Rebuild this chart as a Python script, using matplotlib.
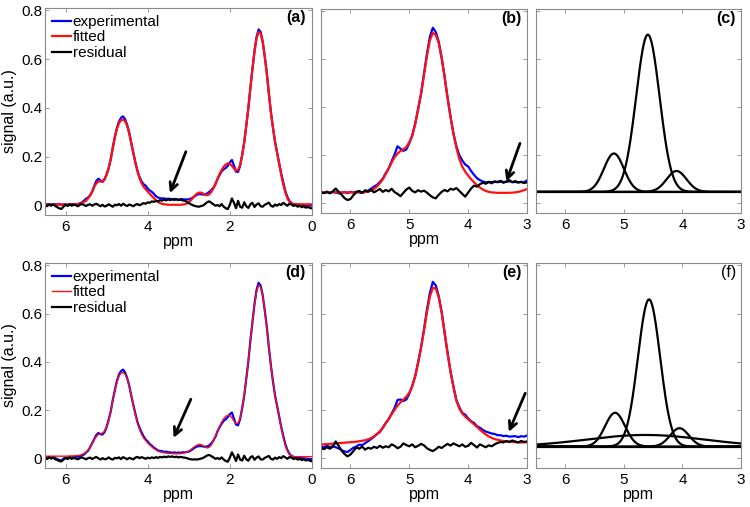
import numpy as np
import matplotlib
matplotlib.use("Agg")
import matplotlib.pyplot as plt

plt.rcParams['font.family'] = ['Liberation Sans', 'DejaVu Sans']

# chemical-shift grids (ppm), 0.05 ppm steps
ppm_full = np.round(np.arange(6.5, -0.001, -0.05), 2)   # panels a, d
ppm_zoom = np.round(np.arange(6.5, 2.999, -0.05), 2)    # panels b, e

# ---- panel (a) ----
fit_a = [0.003, 0.003, 0.003, 0.003, 0.003, 0.003, 0.003, 0.003, 0.003, 0.003,
         0.003, 0.003, 0.003, 0.003, 0.003, 0.004, 0.005, 0.006, 0.009, 0.013,
         0.019, 0.028, 0.041, 0.058, 0.076, 0.090, 0.097, 0.098, 0.100, 0.108,
         0.125, 0.152, 0.190, 0.235, 0.278, 0.313, 0.337, 0.349, 0.352, 0.345,
         0.326, 0.296, 0.257, 0.214, 0.174, 0.140, 0.112, 0.091, 0.076, 0.066,
         0.056, 0.047, 0.038, 0.029, 0.021, 0.014, 0.009, 0.006, 0.004, 0.003,
         0.002, 0.002, 0.002, 0.002, 0.002, 0.002, 0.002, 0.003, 0.004, 0.007,
         0.012, 0.020, 0.030, 0.040, 0.048, 0.052, 0.052, 0.048, 0.043, 0.041,
         0.045, 0.055, 0.070, 0.088, 0.108, 0.128, 0.145, 0.158, 0.167, 0.172,
         0.170, 0.162, 0.151, 0.142, 0.145, 0.165, 0.205, 0.260, 0.325, 0.400,
         0.480, 0.560, 0.630, 0.685, 0.712, 0.705, 0.670, 0.612, 0.540, 0.460,
         0.380, 0.318, 0.262, 0.215, 0.170, 0.126, 0.086, 0.053, 0.029, 0.014,
         0.007, 0.005, 0.004, 0.004, 0.004, 0.004, 0.004, 0.004, 0.004, 0.004,
         0.004]
dev_a = [0.0, 0.002, -0.001, 0.001, -0.002, 0.001, 0.0, 0.002, -0.001, 0.0,
         0.001, -0.002, 0.0, 0.002, 0.001, -0.001, 0.0, 0.002, 0.003, 0.006,
         0.008, 0.004, 0.0, -0.003, 0.004, 0.010, 0.012, 0.004, -0.004, -0.002,
         0.002, 0.001, -0.002, 0.003, 0.002, 0.004, 0.006, 0.010, 0.013, 0.008,
         0.004, 0.002, -0.002, 0.001, 0.003, 0.002, 0.004, 0.007, 0.010, 0.015,
         0.012, 0.014, 0.017, 0.018, 0.016, 0.018, 0.020, 0.022, 0.024, 0.023,
         0.025, 0.024, 0.022, 0.024, 0.023, 0.021, 0.023, 0.022, 0.020, 0.017,
         0.012, 0.007, 0.002, -0.002, -0.005, -0.006, -0.007, -0.004, 0.002, 0.008,
         0.010, 0.008, 0.002, -0.002, 0.0, -0.004, -0.006, -0.010, -0.014, -0.010,
         0.006, 0.024, 0.012, -0.004, -0.008, -0.003, 0.002, -0.002, 0.004, -0.003,
         0.003, -0.002, 0.004, 0.006, 0.010, 0.006, 0.002, -0.002, 0.003, -0.002,
         0.002, 0.0, -0.002, 0.002, 0.004, 0.005, 0.008, 0.006, 0.005, 0.004,
         0.002, 0.0, -0.001, -0.002, -0.002, -0.003, -0.003, -0.004, -0.004, -0.005,
         -0.005]
res_a = [0.0, -0.004, 0.003, -0.002, 0.004, -0.003, -0.008, -0.013, -0.015, -0.006,
         0.002, -0.003, 0.004, -0.002, 0.003, 0.0, -0.004, 0.002, 0.005, 0.001,
         -0.003, 0.002, 0.004, -0.002, 0.003, 0.006, 0.001, -0.004, 0.002, -0.005,
         -0.002, 0.004, -0.001, -0.006, 0.002, 0.0, 0.005, -0.002, 0.006, 0.001,
         -0.003, 0.003, 0.0, -0.004, 0.002, 0.005, 0.0, 0.004, 0.009, 0.006,
         0.012, 0.010, 0.016, 0.014, 0.018, 0.016, 0.021, 0.019, 0.023, 0.020,
         0.024, 0.021, 0.025, 0.022, 0.024, 0.021, 0.023, 0.020, 0.019, 0.014,
         0.009, 0.004, 0.0, -0.003, -0.005, -0.006, -0.003, -0.001, 0.006, 0.013,
         0.016, 0.010, 0.004, -0.002, 0.001, -0.004, 0.005, -0.006, -0.012, -0.016,
         0.002, 0.028, 0.010, -0.012, 0.018, -0.006, -0.010, 0.012, -0.004, -0.011,
         0.004, 0.010, -0.007, 0.003, 0.008, -0.004, -0.006, 0.002, 0.006, 0.011,
         -0.002, -0.006, 0.003, -0.002, 0.005, 0.001, 0.010, 0.004, -0.002, 0.006,
         0.003, -0.003, 0.001, -0.006, -0.002, -0.008, -0.004, -0.010, -0.007, -0.011,
         -0.013]

# ---- panel (d) ----
fit_d = [0.009, 0.009, 0.009, 0.009, 0.009, 0.009, 0.009, 0.009, 0.009, 0.009,
         0.009, 0.009, 0.010, 0.010, 0.010, 0.011, 0.012, 0.013, 0.016, 0.020,
         0.026, 0.035, 0.047, 0.062, 0.078, 0.091, 0.099, 0.102, 0.105, 0.113,
         0.130, 0.157, 0.194, 0.238, 0.281, 0.316, 0.341, 0.353, 0.356, 0.349,
         0.330, 0.300, 0.262, 0.220, 0.181, 0.148, 0.121, 0.100, 0.085, 0.074,
         0.064, 0.056, 0.048, 0.041, 0.035, 0.030, 0.027, 0.025, 0.023, 0.022,
         0.021, 0.020, 0.020, 0.019, 0.019, 0.019, 0.020, 0.021, 0.023, 0.026,
         0.030, 0.036, 0.043, 0.050, 0.055, 0.058, 0.057, 0.052, 0.046, 0.043,
         0.046, 0.056, 0.072, 0.092, 0.113, 0.133, 0.150, 0.164, 0.174, 0.179,
         0.177, 0.168, 0.155, 0.145, 0.146, 0.166, 0.206, 0.262, 0.328, 0.404,
         0.485, 0.566, 0.636, 0.692, 0.718, 0.710, 0.674, 0.615, 0.542, 0.462,
         0.382, 0.319, 0.263, 0.216, 0.171, 0.127, 0.087, 0.054, 0.031, 0.017,
         0.010, 0.008, 0.007, 0.007, 0.007, 0.007, 0.007, 0.007, 0.007, 0.007,
         0.007]
dev_d = [-0.002, -0.005, -0.003, -0.006, -0.004, -0.008, -0.012, -0.016, -0.018, -0.010,
         -0.006, -0.008, -0.004, -0.007, -0.003, -0.006, -0.004, -0.006, -0.003, -0.004,
         -0.002, -0.003, 0.0, 0.002, 0.004, 0.006, 0.006, -0.002, -0.006, -0.004,
         0.0, 0.003, 0.001, 0.004, 0.002, 0.005, 0.006, 0.009, 0.012, 0.007,
         0.003, 0.002, -0.002, 0.002, 0.004, 0.003, 0.006, 0.008, 0.006, 0.004,
         0.006, 0.003, 0.005, 0.003, 0.004, 0.002, 0.004, 0.005, 0.003, 0.006,
         0.004, 0.005, 0.003, 0.006, 0.004, 0.005, 0.003, 0.004, 0.002, 0.0,
         -0.002, -0.003, -0.004, -0.005, -0.006, -0.007, -0.006, -0.003, 0.002, 0.006,
         0.008, 0.006, 0.002, -0.002, -0.001, -0.004, -0.006, -0.009, -0.012, -0.008,
         0.006, 0.022, 0.010, -0.005, -0.009, -0.003, 0.002, -0.002, 0.004, -0.003,
         0.003, -0.002, 0.004, 0.006, 0.010, 0.006, 0.002, -0.002, 0.003, -0.002,
         0.002, 0.0, -0.002, 0.002, 0.003, 0.004, 0.006, 0.005, 0.004, 0.002,
         0.0, -0.002, -0.003, -0.004, -0.005, -0.006, -0.007, -0.008, -0.009, -0.010,
         -0.011]
res_d = [0.002, -0.003, 0.004, -0.001, 0.003, -0.004, -0.007, -0.011, -0.013, -0.005,
         0.001, -0.003, 0.003, -0.002, 0.002, -0.001, -0.004, 0.001, 0.004, 0.0,
         -0.004, 0.001, 0.003, -0.003, 0.002, 0.006, 0.0, -0.005, 0.001, -0.004,
         -0.002, 0.004, -0.002, -0.005, 0.002, 0.0, 0.004, -0.003, 0.005, 0.001,
         -0.004, 0.002, -0.001, -0.004, 0.003, 0.006, 0.001, 0.005, 0.002, -0.002,
         0.003, 0.0, 0.004, 0.001, 0.005, 0.002, 0.006, 0.004, 0.007, 0.005,
         0.008, 0.006, 0.008, 0.005, 0.007, 0.004, 0.006, 0.004, 0.003, 0.001,
         -0.002, -0.004, -0.005, -0.004, -0.005, -0.003, -0.001, 0.002, 0.007, 0.012,
         0.014, 0.009, 0.004, -0.002, 0.001, -0.003, 0.004, -0.005, -0.011, -0.014,
         0.003, 0.025, 0.009, -0.011, 0.016, -0.005, -0.009, 0.011, -0.004, -0.010,
         0.004, 0.009, -0.006, 0.003, 0.008, -0.004, -0.005, 0.002, 0.006, 0.010,
         -0.002, -0.005, 0.003, -0.002, 0.005, 0.001, 0.009, 0.004, -0.002, 0.005,
         0.003, -0.003, 0.001, -0.005, -0.002, -0.007, -0.004, -0.009, -0.006, -0.010,
         -0.012]

# ---- panel (b) ----
fit_b = [0.046, 0.046, 0.046, 0.046, 0.046, 0.046, 0.046, 0.046, 0.046, 0.046,
         0.046, 0.046, 0.046, 0.046, 0.046, 0.047, 0.049, 0.053, 0.060, 0.070,
         0.084, 0.101, 0.122, 0.145, 0.170, 0.192, 0.208, 0.218, 0.225, 0.235,
         0.255, 0.280, 0.330, 0.390, 0.455, 0.535, 0.615, 0.680, 0.710, 0.702,
         0.668, 0.605, 0.525, 0.440, 0.360, 0.290, 0.232, 0.185, 0.153, 0.132,
         0.116, 0.101, 0.088, 0.076, 0.066, 0.058, 0.052, 0.048, 0.046, 0.045,
         0.044, 0.044, 0.044, 0.044, 0.044, 0.045, 0.046, 0.048, 0.051, 0.055,
         0.060]
dev_b = [0.002, -0.003, 0.001, -0.002, 0.003, -0.001, -0.004, -0.002, 0.001, -0.003,
         0.002, -0.001, 0.003, 0.0, -0.002, 0.002, 0.004, 0.008, 0.010, 0.007,
         0.005, 0.002, 0.004, 0.001, 0.006, 0.012, 0.030, 0.010, -0.006, -0.010,
         -0.004, 0.004, 0.002, 0.005, 0.003, 0.006, 0.008, 0.014, 0.022, 0.012,
         0.006, 0.002, 0.004, 0.001, 0.003, 0.002, 0.006, 0.016, 0.026, 0.030,
         0.038, 0.034, 0.031, 0.029, 0.031, 0.033, 0.036, 0.040, 0.043, 0.044,
         0.046, 0.047, 0.045, 0.046, 0.048, 0.044, 0.043, 0.040, 0.038, 0.033,
         0.036]
res_b = [0.046, 0.043, 0.049, 0.042, 0.050, 0.062, 0.048, 0.036, 0.022, 0.014,
         0.018, 0.034, 0.047, 0.052, 0.044, 0.055, 0.049, 0.057, 0.046, 0.053,
         0.060, 0.048, 0.056, 0.050, 0.061, 0.047, 0.040, 0.030, 0.044, 0.058,
         0.066, 0.052, 0.046, 0.055, 0.049, 0.053, 0.045, 0.034, 0.025, 0.021,
         0.036, 0.048, 0.056, 0.050, 0.061, 0.057, 0.064, 0.052, 0.040, 0.028,
         0.045, 0.062, 0.074, 0.070, 0.080, 0.086, 0.082, 0.090, 0.084, 0.092,
         0.088, 0.094, 0.086, 0.091, 0.097, 0.088, 0.093, 0.087, 0.090, 0.085,
         0.088]

# ---- panel (e) ----
fit_e = [0.057, 0.058, 0.059, 0.060, 0.061, 0.062, 0.063, 0.064, 0.065, 0.066,
         0.067, 0.068, 0.069, 0.071, 0.073, 0.075, 0.079, 0.084, 0.091, 0.100,
         0.112, 0.127, 0.145, 0.164, 0.183, 0.201, 0.218, 0.232, 0.244, 0.256,
         0.272, 0.298, 0.340, 0.395, 0.458, 0.530, 0.607, 0.670, 0.708, 0.704,
         0.668, 0.605, 0.522, 0.436, 0.360, 0.295, 0.240, 0.206, 0.186, 0.173,
         0.162, 0.152, 0.141, 0.130, 0.119, 0.108, 0.099, 0.091, 0.085, 0.080,
         0.077, 0.074, 0.072, 0.070, 0.069, 0.068, 0.067, 0.066, 0.066, 0.066,
         0.067]
dev_e = [-0.008, -0.012, -0.006, -0.014, -0.010, -0.016, -0.022, -0.030, -0.036, -0.040,
         -0.032, -0.024, -0.020, -0.014, -0.018, -0.012, -0.008, -0.004, -0.002, 0.001,
         -0.003, 0.0, 0.002, -0.002, 0.003, 0.008, 0.024, 0.012, -0.006, -0.012,
         -0.004, 0.003, 0.001, 0.004, 0.002, 0.005, 0.009, 0.016, 0.024, 0.013,
         0.005, 0.002, -0.002, 0.003, 0.001, 0.004, 0.002, 0.006, 0.003, 0.008,
         0.004, 0.002, 0.006, 0.003, 0.008, 0.010, 0.012, 0.016, 0.018, 0.021,
         0.019, 0.022, 0.020, 0.024, 0.021, 0.023, 0.025, 0.022, 0.026, 0.024,
         0.028]
res_e = [0.042, 0.038, 0.046, 0.040, 0.048, 0.070, 0.052, 0.032, 0.018, 0.008,
         0.016, 0.030, 0.045, 0.040, 0.049, 0.036, 0.044, 0.040, 0.048, 0.043,
         0.052, 0.044, 0.050, 0.046, 0.058, 0.052, 0.042, 0.048, 0.062, 0.055,
         0.050, 0.058, 0.046, 0.052, 0.060, 0.054, 0.042, 0.035, 0.030, 0.038,
         0.048, 0.043, 0.052, 0.060, 0.053, 0.062, 0.056, 0.050, 0.058, 0.048,
         0.052, 0.064, 0.055, 0.045, 0.058, 0.052, 0.046, 0.054, 0.050, 0.058,
         0.064, 0.068, 0.066, 0.072, 0.068, 0.074, 0.070, 0.066, 0.072, 0.068,
         0.070]

# ---- fitted components: baseline, then (centre ppm, height, width ppm) ----
base_c = 0.048
centres_c = [5.17, 4.59, 4.10]
heights_c = [0.16, 0.655, 0.087]
widths_c = [0.17, 0.20, 0.17]

base_f = 0.049
centres_f = [5.15, 4.57, 4.05, 4.63]
heights_f = [0.14, 0.61, 0.076, 0.048]
widths_f = [0.17, 0.19, 0.16, 1.0]

# arrows: (tail ppm, tail signal, head ppm, head signal)
arrow_a = (3.07, 0.22, 3.46, 0.05)
arrow_b = (3.12, 0.25, 3.35, 0.092)
arrow_d = (2.95, 0.245, 3.37, 0.085)
arrow_e = (3.03, 0.27, 3.31, 0.11)

for arr, n in [(fit_a, 131), (dev_a, 131), (res_a, 131), (fit_d, 131), (dev_d, 131),
               (res_d, 131), (fit_b, 71), (dev_b, 71), (res_b, 71), (fit_e, 71),
               (dev_e, 71), (res_e, 71)]:
    assert len(arr) == n, (len(arr), n)

BLUE = '#0000ff'
RED = '#ff1010'
SPINE = '#8a8a8a'


def style(ax, xlim, xticks, ylabels=True):
    ax.set_xlim(*xlim)
    ax.set_ylim(-0.04, 0.81)
    ax.set_xticks(xticks)
    ax.set_xticklabels([str(t) for t in xticks])
    ax.set_yticks([0, 0.2, 0.4, 0.6, 0.8])
    if ylabels:
        ax.set_yticklabels(['0', '0.2', '0.4', '0.6', '0.8'])
    else:
        ax.set_yticklabels([])
    ax.tick_params(direction='in', top=True, right=True, length=3,
                   width=0.6, color=SPINE, labelsize=11)
    ax.tick_params(axis='y', pad=2)
    for s in ax.spines.values():
        s.set_color(SPINE)
        s.set_linewidth(0.8)


def arrow(ax, a):
    ax.annotate('', xy=(a[2], a[3]), xytext=(a[0], a[1]),
                arrowprops=dict(arrowstyle='->,head_length=0.55,head_width=0.28',
                                color='k', lw=2.0, shrinkA=0, shrinkB=0))


def tag(ax, s, bold=True):
    ax.text(0.975, 0.955, s, transform=ax.transAxes, ha='right', va='center',
            fontsize=11.5, fontweight='bold' if bold else 'normal')


fig = plt.figure(figsize=(7.5, 5.07), dpi=100)
W, H = 750, 507


def add_ax(l, t, r, b):
    return fig.add_axes([l / W, 1 - b / H, (r - l) / W, (b - t) / H])


ax_a = add_ax(45, 8, 312, 215)
ax_b = add_ax(321, 9, 527, 213)
ax_c = add_ax(536, 9, 741, 213)
ax_d = add_ax(45, 263, 312, 468)
ax_e = add_ax(321, 263, 527, 468)
ax_f = add_ax(536, 263, 741, 468)

# spectra with fit and residual
for ax, ppm, fit, dev, res, red_lw in [
        (ax_a, ppm_full, fit_a, dev_a, res_a, 1.6),
        (ax_d, ppm_full, fit_d, dev_d, res_d, 1.0),
        (ax_b, ppm_zoom, fit_b, dev_b, res_b, 1.6),
        (ax_e, ppm_zoom, fit_e, dev_e, res_e, 1.6)]:
    exp = np.array(fit) + np.array(dev)
    ax.plot(ppm, exp, color=BLUE, lw=1.6, label='experimental')
    ax.plot(ppm, fit, color=RED, lw=red_lw, label='fitted')
    ax.plot(ppm, res, color='k', lw=1.6, label='residual')

for ax in (ax_a, ax_d):
    style(ax, (6.5, 0), [6, 4, 2, 0])
    ax.set_ylabel('signal (a.u.)', fontsize=11.5, labelpad=3)
    ax.legend(loc='upper left', frameon=False, fontsize=11, handlelength=1.25,
              handletextpad=0.1, labelspacing=0.1, borderaxespad=0.15,
              borderpad=0.3)
for ax in (ax_b, ax_e, ax_c, ax_f):
    style(ax, (6.5, 3), [6, 5, 4, 3], ylabels=False)

# component line shapes
x_comp = np.linspace(6.5, 3.0, 400)
for ax, base, cs, hs, ws in [(ax_c, base_c, centres_c, heights_c, widths_c),
                             (ax_f, base_f, centres_f, heights_f, widths_f)]:
    ax.plot(x_comp, np.full_like(x_comp, base), color='k', lw=1.6)
    for c, h, w in zip(cs, hs, ws):
        ax.plot(x_comp, base + h * np.exp(-(x_comp - c) ** 2 / (2 * w ** 2)),
                color='k', lw=1.6)

for ax in (ax_a, ax_b, ax_d, ax_e, ax_f):
    ax.set_xlabel('ppm', fontsize=11.5, labelpad=0)

arrow(ax_a, arrow_a)
arrow(ax_b, arrow_b)
arrow(ax_d, arrow_d)
arrow(ax_e, arrow_e)

tag(ax_a, '(a)')
tag(ax_b, '(b)')
tag(ax_c, '(c)')
tag(ax_d, '(d)')
tag(ax_e, '(e)')
tag(ax_f, '(f)', bold=False)

fig.savefig('out.png', dpi=100)
